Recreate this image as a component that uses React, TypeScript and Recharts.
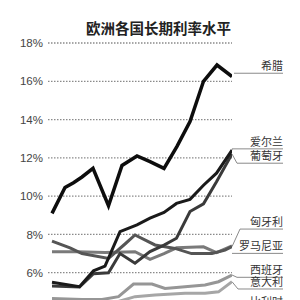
import React from "react";
import { LineChart, Line, XAxis, YAxis, CartesianGrid, ReferenceLine } from "recharts";

const title = "欧洲各国长期利率水平";
const yTicks = [6, 8, 10, 12, 14, 16, 18];

const greeceT = [0, 2.6, 4.3, 6, 8.2, 11.3, 14, 17, 19.6, 22.4, 25, 27.6, 30.3, 33, 36];
const greeceV = [9.1, 10.45, 10.7, 11.0, 11.45, 9.5, 11.6, 12.1, 11.8, 11.45, 12.6, 13.9, 16.0, 16.85, 16.25];

const irelandT = [0, 5.5, 8.3, 10.6, 13.6, 17, 19.6, 22.4, 24.9, 27.6, 30.3, 32.9, 36];
const irelandV = [5.5, 5.27, 6.1, 6.35, 8.15, 8.5, 8.85, 9.15, 9.62, 9.83, 10.57, 11.2, 12.4];

const portugalT = [0, 5.5, 8.3, 11.3, 13.6, 16.6, 19.6, 22.4, 24.9, 27.6, 30.3, 32.9, 36];
const portugalV = [5.3, 5.25, 5.95, 6.0, 7.0, 6.5, 7.1, 7.44, 7.8, 9.2, 9.6, 10.75, 12.2];

const hungaryT = [0, 3.6, 6, 11.3, 14.6, 16.6, 20.6, 24.6, 27.9, 32, 34.6, 36];
const hungaryV = [7.65, 7.3, 7.0, 6.75, 7.5, 7.97, 7.45, 7.27, 7.0, 7.0, 7.18, 7.36];

const romaniaT = [0, 5, 10.6, 16.6, 19.6, 22.4, 24.9, 30.3, 32.9, 36];
const romaniaV = [7.1, 7.1, 7.05, 7.1, 6.7, 7.0, 7.3, 7.35, 7.05, 7.4];

const spainT = [0, 6, 10, 13.3, 16.3, 20, 22.6, 26.6, 30.6, 33.3, 36];
const spainV = [4.65, 4.6, 4.6, 4.75, 5.41, 5.41, 5.18, 5.27, 5.36, 5.53, 5.88];

const italyT = [0, 10, 13.3, 16.6, 20.6, 26.6, 30.6, 33.3, 36];
const italyV = [4.3, 4.2, 4.5, 4.75, 4.84, 4.93, 4.93, 5.0, 5.53];

const zip = (t: number[], v: number[]) => t.map((x, i) => ({ t: x, v: v[i] }));

const series = [
  { name: "意大利", data: zip(italyT, italyV), color: "#a6a6a6", w: 3 },
  { name: "西班牙", data: zip(spainT, spainV), color: "#969696", w: 3 },
  { name: "罗马尼亚", data: zip(romaniaT, romaniaV), color: "#7a7a7a", w: 3 },
  { name: "匈牙利", data: zip(hungaryT, hungaryV), color: "#555555", w: 3 },
  { name: "葡萄牙", data: zip(portugalT, portugalV), color: "#3a3a3a", w: 3 },
  { name: "爱尔兰", data: zip(irelandT, irelandV), color: "#1a1a1a", w: 3 },
  { name: "希腊", data: zip(greeceT, greeceV), color: "#0d0d0d", w: 3.5 },
];

// label leader lines
const labelNames = ["希腊", "爱尔兰", "葡萄牙", "匈牙利", "罗马尼亚", "西班牙", "意大利", "比利时"];
const labelStartT = [36.4, 36, 36, 36, 36, 36, 36, 36];
const labelStartV = [16.42, 12.4, 12.2, 7.36, 7.01, 5.88, 5.53, 4.1];
const labelBendT = [36.4, 36, 37, 37.6, 36, 37, 37.2, 36.6];
const labelLineV = [16.42, 12.47, 11.72, 8.28, 7.01, 5.76, 5.15, 4.1];
const labelEndT = 46.2;

const LabelText = (props: any) => {
  const vb = props.viewBox || {};
  const xr = vb.x2 !== undefined ? Math.max(vb.x1, vb.x2) : vb.x + vb.width;
  const y = vb.y2 !== undefined ? Math.min(vb.y1, vb.y2) : vb.y;
  return (
    <text
      x={xr}
      y={y - 3}
      textAnchor="end"
      fontSize={11}
      fill="#333"
      fontFamily="'Noto Sans CJK SC', sans-serif"
    >
      {props.value}
    </text>
  );
};

export default function App() {
  return (
    <div
      style={{
        position: "absolute",
        left: 0,
        top: 0,
        width: 300,
        height: 300,
        overflow: "hidden",
        background: "#fff",
      }}
    >
      <div
        style={{
          position: "absolute",
          left: 0,
          width: 317,
          top: 18,
          textAlign: "center",
          fontFamily: "'Noto Sans CJK SC', sans-serif",
          fontWeight: 700,
          fontSize: 14.5,
          lineHeight: "20px",
          color: "#222",
        }}
      >
        {title}
      </div>
      <div style={{ position: "absolute", left: 0, top: 0 }}>
        <LineChart width={300} height={320} margin={{ top: 43, right: 68, bottom: 9, left: 0 }}>
          <CartesianGrid
            horizontal={true}
            vertical={false}
            stroke="#8a8a8a"
            strokeWidth={1.3}
            strokeDasharray="1.5 1.5"
          />
          <XAxis type="number" dataKey="t" domain={[-0.8, 36]} hide allowDataOverflow />
          <YAxis
            type="number"
            domain={[4, 18]}
            ticks={yTicks}
            width={48}
            axisLine={false}
            tickLine={false}
            tickSize={0}
            tickMargin={5}
            tick={{ fontSize: 11.5, fill: "#444", fontFamily: "'Liberation Sans', Arial, sans-serif" }}
            tickFormatter={(v: number) => `${v}%`}
            allowDataOverflow
          />
          {labelNames.map((n, i) => (
            <ReferenceLine
              key={"a" + n}
              segment={[
                { x: labelStartT[i], y: labelStartV[i] },
                { x: labelBendT[i], y: labelLineV[i] },
              ]}
              stroke="#8a8a8a"
              strokeWidth={1}
              ifOverflow="visible"
            />
          ))}
          {labelNames.map((n, i) => (
            <ReferenceLine
              key={"b" + n}
              segment={[
                { x: labelBendT[i], y: labelLineV[i] },
                { x: labelEndT, y: labelLineV[i] },
              ]}
              stroke="#8a8a8a"
              strokeWidth={1}
              ifOverflow="visible"
              label={<LabelText value={n} />}
            />
          ))}
          {series.map((s) => (
            <Line
              key={s.name}
              data={s.data}
              dataKey="v"
              type="linear"
              stroke={s.color}
              strokeWidth={s.w}
              dot={false}
              isAnimationActive={false}
              strokeLinejoin="miter"
            />
          ))}
        </LineChart>
      </div>
    </div>
  );
}
